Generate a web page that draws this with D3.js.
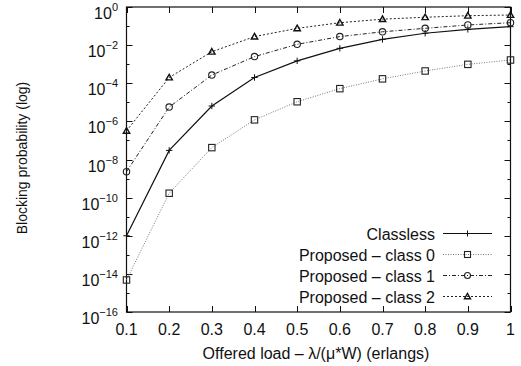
<!DOCTYPE html>
<html>
<head>
<script src="https://d3js.org/d3.v7.min.js"></script>
<style>
  body { margin: 0; background: #fff; }
  text { font-family: "Liberation Sans", Arial, sans-serif; fill: #111; }
</style>
</head>
<body>
<div id="chart"></div>
<script>
var loads = [0.1, 0.2, 0.3, 0.4, 0.5, 0.6, 0.7, 0.8, 0.9, 1.0];
var classless = [1e-12, 3e-8, 6.4e-6, 2e-4, 1.5e-3, 6.8e-3, 0.02, 0.042, 0.067, 0.093];
var class0 = [4.8e-15, 1.7e-10, 4.2e-8, 1.2e-6, 1.07e-5, 5.2e-5, 1.7e-4, 4.4e-4, 9.8e-4, 1.66e-3];
var class1 = [2.3e-9, 5.6e-6, 2.7e-4, 2.5e-3, 0.011, 0.028, 0.05, 0.076, 0.114, 0.15];
var class2 = [3.2e-7, 2e-4, 4.5e-3, 0.028, 0.076, 0.15, 0.23, 0.29, 0.35, 0.38];
var seriesNames = ["Classless", "Proposed \u2013 class 0", "Proposed \u2013 class 1", "Proposed \u2013 class 2"];
var xTicks = [0.1, 0.2, 0.3, 0.4, 0.5, 0.6, 0.7, 0.8, 0.9, 1];
var yMajor = [0, -2, -4, -6, -8, -10, -12, -14, -16];
var yMinor = [-1, -3, -5, -7, -9, -11, -13, -15];

var w = 521, h = 366;
var pLeft = 126.5, pRight = 510.5, pTop = 7, pBottom = 312;

var svg = d3.select("#chart").append("svg")
  .attr("width", w).attr("height", h);

var x = d3.scaleLinear().domain([0.1, 1]).range([pLeft, pRight]);
var y = d3.scaleLog().domain([1e-16, 1]).range([pBottom, pTop]);

var series = [
  {name: seriesNames[0], vals: classless, marker: "plus", dash: null, color: "#111", width: 1.2},
  {name: seriesNames[1], vals: class0, marker: "square", dash: "1,1.5", color: "#777", width: 1},
  {name: seriesNames[2], vals: class1, marker: "circle", dash: "4,2,1,2", color: "#222", width: 1},
  {name: seriesNames[3], vals: class2, marker: "triangle", dash: "2,2", color: "#222", width: 1}
];

function drawMarker(g, type, cx, cy, s) {
  if (type === "plus") {
    g.append("path").attr("d", "M" + (cx - s) + "," + cy + "H" + (cx + s) + "M" + cx + "," + (cy - s) + "V" + (cy + s))
      .attr("stroke", "#111").attr("stroke-width", 1);
  } else if (type === "square") {
    g.append("rect").attr("x", cx - s).attr("y", cy - s).attr("width", 2 * s).attr("height", 2 * s)
      .attr("fill", "none").attr("stroke", "#222").attr("stroke-width", 1.1);
  } else if (type === "circle") {
    g.append("circle").attr("cx", cx).attr("cy", cy).attr("r", s)
      .attr("fill", "none").attr("stroke", "#222").attr("stroke-width", 1.1);
  } else {
    g.append("path").attr("d", "M" + cx + "," + (cy - s) + "L" + (cx + s) + "," + (cy + s * 0.75) + "L" + (cx - s) + "," + (cy + s * 0.75) + "Z")
      .attr("fill", "none").attr("stroke", "#111").attr("stroke-width", 1.4);
  }
}

// ticks
var axes = svg.append("g").attr("stroke", "#111").attr("stroke-width", 1);
xTicks.forEach(function(t) {
  var px = Math.round(x(t)) + 0.5;
  axes.append("line").attr("x1", px).attr("x2", px).attr("y1", pBottom).attr("y2", pBottom - 6);
  axes.append("line").attr("x1", px).attr("x2", px).attr("y1", pTop).attr("y2", pTop + 6);
  svg.append("text").attr("x", x(t)).attr("y", pBottom + 23).attr("text-anchor", "middle")
    .attr("font-size", 16).text(t === 1 ? "1" : d3.format(".1f")(t));
});
yMajor.forEach(function(e) {
  var py = Math.round(y(Math.pow(10, e))) + 0.5;
  axes.append("line").attr("x1", pLeft).attr("x2", pLeft + 6).attr("y1", py).attr("y2", py);
  axes.append("line").attr("x1", pRight).attr("x2", pRight - 6).attr("y1", py).attr("y2", py);
  var t = svg.append("text").attr("x", 118).attr("y", py + 11).attr("text-anchor", "end").attr("font-size", 16);
  t.append("tspan").text("10");
  t.append("tspan").attr("dy", -8).attr("font-size", 11).text(e === 0 ? "0" : "\u2212" + (-e));
});
yMinor.forEach(function(e) {
  var py = Math.round(y(Math.pow(10, e))) + 0.5;
  axes.append("line").attr("x1", pLeft).attr("x2", pLeft + 3).attr("y1", py).attr("y2", py);
  axes.append("line").attr("x1", pRight).attr("x2", pRight - 3).attr("y1", py).attr("y2", py);
});
svg.append("rect").attr("x", pLeft).attr("y", pTop).attr("width", pRight - pLeft).attr("height", pBottom - pTop)
  .attr("fill", "none").attr("stroke", "#111").attr("stroke-width", 1.2);

// series
var line = d3.line().x(function(d) { return x(d[0]); }).y(function(d) { return y(d[1]); });
series.forEach(function(s) {
  var pts = loads.map(function(l, i) { return [l, s.vals[i]]; });
  svg.append("path").attr("d", line(pts)).attr("fill", "none")
    .attr("stroke", s.color).attr("stroke-width", s.width)
    .attr("stroke-dasharray", s.dash);
  var g = svg.append("g");
  pts.forEach(function(p) { drawMarker(g, s.marker, x(p[0]), y(p[1]), 3.2); });
});

// legend
series.forEach(function(s, i) {
  var ly = 233.5 + i * 21;
  svg.append("text").attr("x", 435).attr("y", ly + 6).attr("text-anchor", "end")
    .attr("font-size", 16).text(s.name);
  svg.append("line").attr("x1", 443).attr("x2", 492).attr("y1", ly).attr("y2", ly)
    .attr("stroke", s.color).attr("stroke-width", s.width).attr("stroke-dasharray", s.dash);
  drawMarker(svg.append("g"), s.marker, 467.5, ly, 3);
});

// axis titles
svg.append("text").attr("x", 316).attr("y", 359).attr("text-anchor", "middle").attr("font-size", 16)
  .text("Offered load \u2013 \u03bb/(\u03bc*W) (erlangs)");
svg.append("text").attr("transform", "translate(27,158) rotate(-90)").attr("text-anchor", "middle")
  .attr("font-size", 14).text("Blocking probability (log)");
</script>
</body>
</html>
